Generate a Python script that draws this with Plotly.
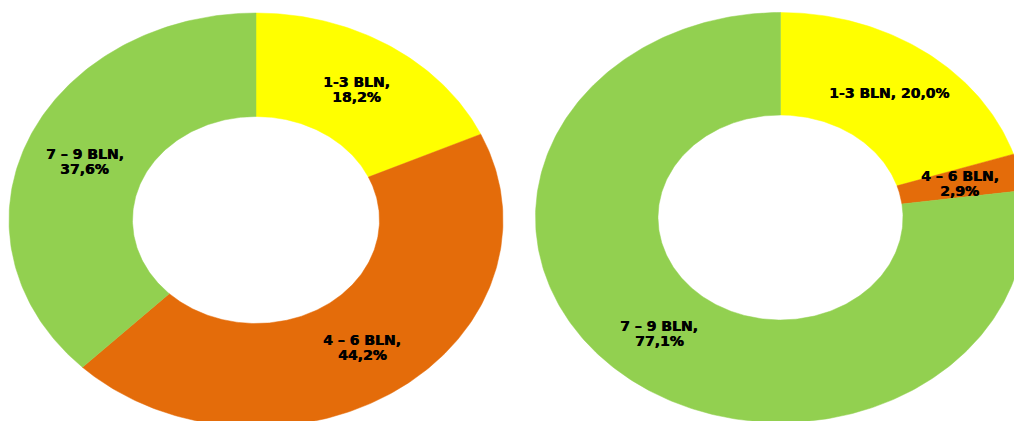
import numpy as np
import plotly.graph_objects as go

# Shares by category, two donuts
categories = ["1-3 BLN", "4 \u2013 6 BLN", "7 \u2013 9 BLN"]
left_shares = [18.2, 44.2, 37.6]
right_shares = [20.0, 2.9, 77.1]
# label layout: True = name and value on separate lines
left_breaks = [True, True, True]
right_breaks = [False, True, True]

colors = ["#FFFF00", "#E46C0A", "#92D050"]

W, H = 1014, 421
HOLE = 0.5
LABEL_R = 0.75
FONT = dict(family="DejaVu Sans", size=14, color="black", shadow="0.6px 0 0 #000")

donuts = [
    dict(shares=left_shares, breaks=left_breaks, cx=256.0, cy=220.0, rx=247.0, ry=207.0),
    dict(shares=right_shares, breaks=right_breaks, cx=780.5, cy=217.5, rx=245.0, ry=205.0),
]


def fmt_pct(v):
    return f"{v:.1f}".replace(".", ",") + "%"


def ring_point(d, frac, r):
    # angle measured clockwise from 12 o'clock; y axis runs downward
    ang = 2 * np.pi * frac
    return d["cx"] + r * d["rx"] * np.sin(ang), d["cy"] - r * d["ry"] * np.cos(ang)


fig = go.Figure()
annotations = []

for d in donuts:
    total = float(sum(d["shares"]))
    start = 0.0
    for cat, v, col, brk in zip(categories, d["shares"], colors, d["breaks"]):
        f0 = start / total
        f1 = (start + v) / total
        n = max(8, int(400 * (f1 - f0)))
        t = np.linspace(f0, f1, n)
        ox, oy = ring_point(d, t, 1.0)
        ix, iy = ring_point(d, t[::-1], HOLE)
        xs = np.concatenate([ox, ix, ox[:1]])
        ys = np.concatenate([oy, iy, oy[:1]])
        fig.add_trace(go.Scatter(
            x=xs, y=ys, mode="lines", fill="toself",
            fillcolor=col, line=dict(color=col, width=0.5),
            hoverinfo="skip", showlegend=False,
        ))
        # label at the middle of the slice, halfway across the ring
        lx, ly = ring_point(d, (f0 + f1) / 2, LABEL_R)
        pct = fmt_pct(v)
        if brk:
            lines = [f"<b>{cat},</b>", f"<b>{pct}</b>"]
            offs = [-7.5, 7.5]
        else:
            lines = [f"<b>{cat}, {pct}</b>"]
            offs = [0.0]
        for txt, o in zip(lines, offs):
            annotations.append(dict(
                x=lx, y=ly + o, xref="x", yref="y", text=txt,
                showarrow=False, font=FONT, xanchor="center", yanchor="middle",
            ))
        start += v

fig.update_layout(
    width=W, height=H, autosize=False,
    margin=dict(l=0, r=0, t=0, b=0, pad=0),
    paper_bgcolor="white", plot_bgcolor="white",
    xaxis=dict(range=[0, W], visible=False, fixedrange=True),
    yaxis=dict(range=[H, 0], visible=False, fixedrange=True),
    annotations=annotations,
    showlegend=False,
)

fig.write_html("out.html", config=dict(displayModeBar=False))
